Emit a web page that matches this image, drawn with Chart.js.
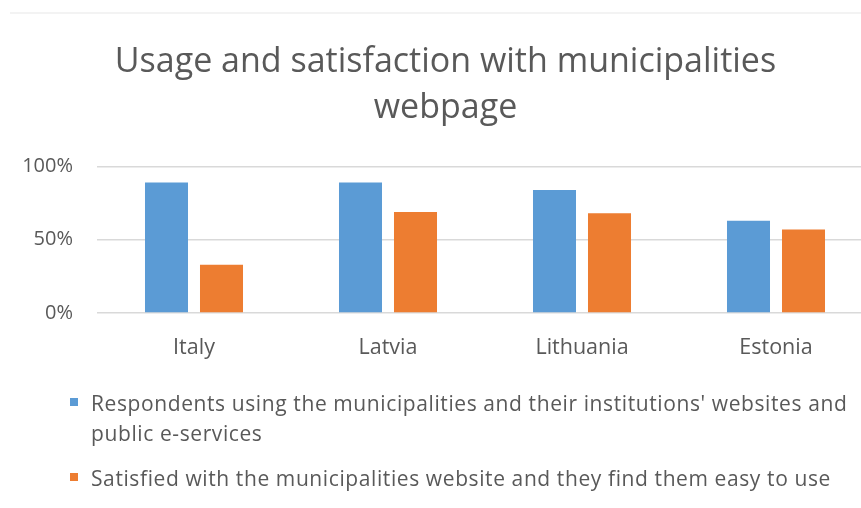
<!DOCTYPE html>
<html>
<head>
<meta charset="utf-8">
<script src="https://cdn.jsdelivr.net/npm/chart.js@4/dist/chart.umd.min.js"></script>
<style>
  html, body { margin: 0; padding: 0; background: #fff; overflow: hidden; width: 861px; height: 508px; }
  #wrap { position: relative; width: 900px; height: 508px; }
  #frame { position: absolute; left: 10px; top: 12px; width: 890px; height: 0; border-top: 2px solid #f3f3f3; }
  #legend { position: absolute; left: 70px; top: 388px; font-family: 'Open Sans', sans-serif; font-size: 21px; letter-spacing: 0.6px; color: #595959; }
  .item { display: flex; align-items: flex-start; margin-bottom: 15px; }
  .box { width: 8px; height: 8px; margin-top: 10px; margin-right: 13px; flex: none; }
  .text { width: 765px; line-height: 30px; }
</style>
</head>
<body>
<div id="wrap">
  <div id="frame"></div>
  <canvas id="chart" width="900" height="508"></canvas>
  <div id="legend"></div>
</div>
<script>
const categories = ['Italy', 'Latvia', 'Lithuania', 'Estonia'];
const seriesNames = [
  "Respondents using the municipalities and their institutions' websites and public e-services",
  'Satisfied with the municipalities website and they find them easy to use'
];
const usingWebsites = [89, 89, 84, 63];
const satisfiedEasy = [33, 69, 68, 57];
const percentTicks = [0, 50, 100];
const seriesColors = ['#5B9BD5', '#ED7D31'];

const textGray = '#595959';
const baseFont = "'Open Sans', sans-serif";

const chart = new Chart(document.getElementById('chart'), {
  type: 'bar',
  data: {
    labels: categories,
    datasets: [
      { label: seriesNames[0], data: usingWebsites, backgroundColor: seriesColors[0] },
      { label: seriesNames[1], data: satisfiedEasy, backgroundColor: seriesColors[1] }
    ]
  },
  options: {
    responsive: false,
    animation: false,
    categoryPercentage: 0.567,
    barPercentage: 0.782,
    layout: { padding: { left: 18, right: 27, top: 0, bottom: 145 } },
    plugins: {
      legend: { display: false },
      tooltip: { enabled: false },
      title: {
        display: true,
        text: ['Usage and satisfaction with municipalities', 'webpage'],
        color: textGray,
        font: { family: baseFont, size: 34, weight: 'normal', lineHeight: 1.36 },
        padding: { top: 39, bottom: 35 }
      }
    },
    scales: {
      x: {
        grid: { display: false },
        border: { display: false },
        ticks: { color: textGray, font: { family: baseFont, size: 21.5 }, padding: 14 },
        afterFit: (s) => { s.height = 50; }
      },
      y: {
        min: percentTicks[0],
        max: percentTicks[percentTicks.length - 1],
        afterBuildTicks: (s) => { s.ticks = percentTicks.map(v => ({ value: v })); },
        grid: { color: '#D9D9D9', drawTicks: false, lineWidth: 1.5 },
        border: { display: false },
        ticks: { color: textGray, font: { family: baseFont, size: 20 }, padding: 24, callback: v => v + '%' },
        afterFit: (s) => { s.width = 79; }
      }
    }
  }
});

// legend below the plot, text wraps inside a fixed-width column
const legendEl = document.getElementById('legend');
chart.data.datasets.forEach(ds => {
  const item = document.createElement('div');
  item.className = 'item';
  const box = document.createElement('div');
  box.className = 'box';
  box.style.background = ds.backgroundColor;
  const txt = document.createElement('div');
  txt.className = 'text';
  txt.textContent = ds.label;
  item.appendChild(box);
  item.appendChild(txt);
  legendEl.appendChild(item);
});
</script>
</body>
</html>
